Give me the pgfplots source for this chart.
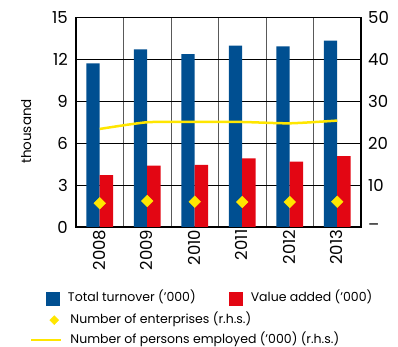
\documentclass[border=0pt]{standalone}
\usepackage{fontspec}
\setmainfont{Poppins}
\usepackage{pgfplots}
\pgfplotsset{compat=1.18}
\definecolor{cblue}{RGB}{0,79,145}
\definecolor{cred}{RGB}{227,6,19}
\definecolor{cyel}{RGB}{255,230,0}
\begin{document}
\begin{tikzpicture}
\path[use as bounding box] (-76pt,-120pt) rectangle (322pt,227pt);
\begin{axis}[
  at={(0pt,0pt)}, anchor=south west,
  scale only axis, width=285pt, height=209.5pt,
  xmin=-0.5, xmax=5.5, ymin=0, ymax=15,
  ybar=0pt, bar width=13.3pt,
  ytick={0,3,6,9,12,15},
  xtick={0,1,2,3,4,5}, xticklabels={2008,2009,2010,2011,2012,2013},
  minor xtick={0.5,1.5,2.5,3.5,4.5},
  xminorgrids, ymajorgrids,
  major grid style={black, line width=0.6pt},
  minor grid style={black!65, line width=0.8pt},
  major tick length=0pt, minor tick length=0pt,
  axis line style={black, line width=1.3pt},
  ytick pos=left, xtick pos=bottom,
  /pgf/number format/assume math mode=true,
  tick label style={font=\fontsize{16.5}{16.5}\selectfont},
  x tick label style={yshift=-2.5pt, xshift=-0.5pt, rotate=90, anchor=east, inner sep=0pt},
  y tick label style={inner sep=0pt, xshift=-8pt},
  ylabel={thousand},
  ylabel style={at={(axis description cs:-0.175,0.456)}, anchor=center, font=\fontsize{13.5}{13.5}\selectfont},
  legend columns=2,
  legend cell align=left,
  legend style={at={(axis description cs:-0.1053,-0.3427)}, anchor=west,
    draw=none, fill=none, inner sep=0pt, outer sep=0pt,
    font=\fontsize{12.5}{12.5}\selectfont,
    nodes={inner sep=0pt, text height=9pt, text depth=3pt},
    column sep=8pt,
    /tikz/every even column/.append style={column sep=33pt}},
]
\addplot[fill=cblue, draw=none,
  legend image code/.code={\fill[cblue] (0pt,-7pt) rectangle (14pt,7pt);}]
  coordinates {(0,11.72) (1,12.72) (2,12.38) (3,12.98) (4,12.93) (5,13.34)};
\addlegendentry{Total turnover ('000)}
\addplot[fill=cred, draw=none,
  legend image code/.code={\fill[cred] (0pt,-7pt) rectangle (14pt,7pt);}]
  coordinates {(0,3.72) (1,4.39) (2,4.44) (3,4.92) (4,4.68) (5,5.08)};
\addlegendentry{Value added ('000)}
\end{axis}
\begin{axis}[
  at={(0pt,0pt)}, anchor=south west,
  scale only axis, width=285pt, height=209.5pt,
  xmin=-0.5, xmax=5.5, ymin=0, ymax=50,
  hide x axis,
  axis y line*=right,
  ytick={0,10,20,30,40,50},
  yticklabels={–,10,20,30,40,50},
  major tick length=0pt,
  axis line style={black, line width=1.3pt},
  /pgf/number format/assume math mode=true,
  tick label style={font=\fontsize{16.5}{16.5}\selectfont},
  y tick label style={inner sep=0pt, xshift=7pt},
  legend columns=1,
  legend cell align=left,
  legend style={at={(axis description cs:-0.1614,-0.492)}, anchor=west,
    draw=none, fill=none, inner sep=0pt, outer sep=0pt,
    font=\fontsize{12.5}{12.5}\selectfont,
    nodes={inner sep=0pt, text height=9pt, text depth=3pt},
    column sep=8pt, row sep=8pt},
]
\addplot[cyel, only marks, mark=square*, mark size=4.1pt,
  mark options={rotate=45, fill=cyel, draw=cyel},
  legend image code/.code={\path[draw=none, fill=none] (0pt,-5pt) rectangle (30pt,5pt);
    \fill[cyel] (23pt,4.5pt) -- (27.5pt,0pt) -- (23pt,-4.5pt) -- (18.5pt,0pt) -- cycle;}]
  coordinates {(0,5.66) (1,6.2) (2,6.04) (3,5.97) (4,5.97) (5,6.04)};
\addlegendentry{Number of enterprises (r.h.s.)}
\addplot[cyel, line width=2.5pt, smooth, tension=0.4,
  legend image code/.code={\draw[cyel, line width=2.5pt] (0pt,0pt) -- (30pt,0pt);}]
  coordinates {(0,23.4) (1,25.0) (2,25.06) (3,25.06) (4,24.75) (5,25.4)};
\addlegendentry{Number of persons employed ('000) (r.h.s.)}
\end{axis}
\end{tikzpicture}
\end{document}
